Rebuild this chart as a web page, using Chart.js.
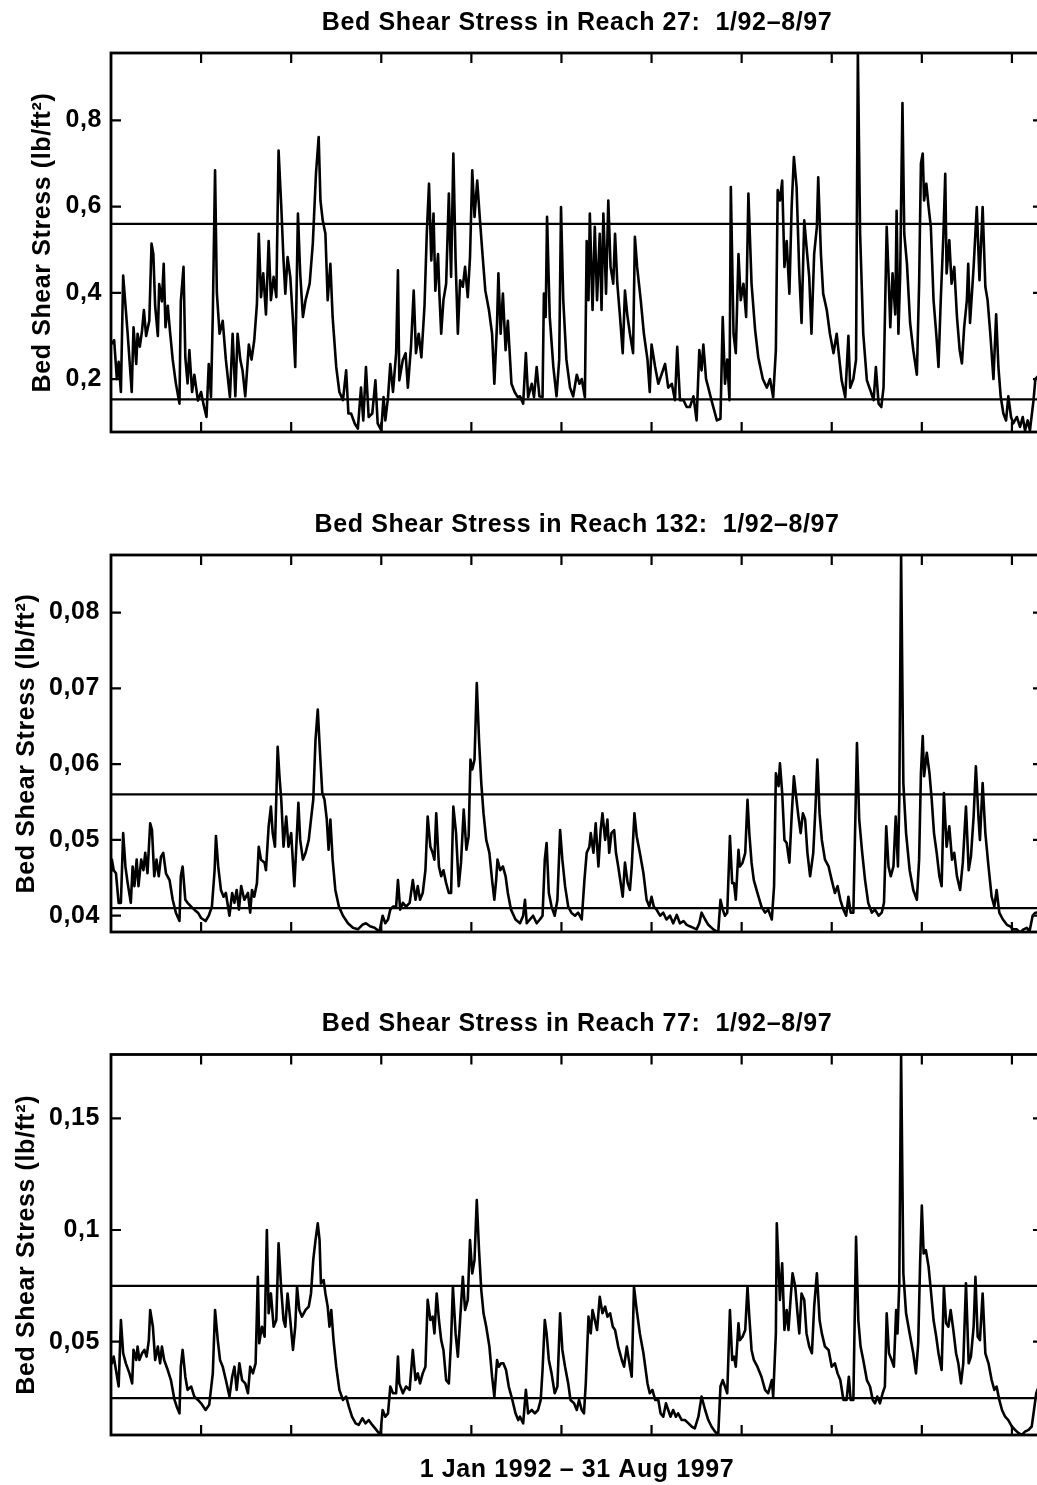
<!DOCTYPE html>
<html>
<head>
<meta charset="utf-8">
<title>Bed Shear Stress 1/92-8/97</title>
<script src="https://cdn.jsdelivr.net/npm/chart.js@4.4.1/dist/chart.umd.min.js"></script>
<style>
  html, body { margin: 0; padding: 0; background: #fff; overflow: hidden; }
  body { width: 1037px; height: 1485px; position: relative; }
  canvas { position: absolute; left: 0; }
</style>
</head>
<body>
<canvas id="reach27" width="1050" height="480" style="top:0px"></canvas>
<canvas id="reach132" width="1050" height="480" style="top:500px"></canvas>
<canvas id="reach77" width="1050" height="485" style="top:1000px"></canvas>
<script>
// days since 1 Jan 1992, last day = 31 Aug 1997
const lastDay = 2069;
const xTicks = [200, 400, 600, 800, 1000, 1200, 1400, 1600, 1800, 2000];

// ---- Reach 27 ----
const reach27Ticks = [0.2, 0.4, 0.6, 0.8];
const reach27Limits = [0.153, 0.56];
const reach27Days = [0,
  2,7,13,17,22,27,37,46,50,56,
  59,64,69,73,78,85,90,94,98,104,
  107,113,117,121,126,131,137,144,152,155,
  161,165,170,174,180,185,193,200,205,212,
  217,222,226,231,235,241,248,255,264,270,
  276,281,287,292,298,306,312,318,324,328,
  333,338,344,350,355,361,367,372,378,383,
  387,392,398,404,409,415,420,426,432,441,
  448,455,461,465,470,476,481,487,492,500,
  507,515,522,527,533,541,548,555,560,566,
  572,580,587,592,600,605,609,615,620,626,
  633,637,640,648,654,659,666,672,677,683,
  689,696,701,706,711,716,720,726,729,733,
  738,744,750,755,760,765,770,775,781,786,
  792,797,802,807,813,818,824,831,839,846,
  851,857,860,865,870,876,881,889,896,903,
  908,915,921,926,934,939,945,951,958,961,
  965,968,974,982,989,995,999,1004,1011,1019,
  1026,1034,1040,1045,1052,1056,1060,1063,1069,1074,
  1079,1085,1089,1093,1099,1104,1109,1115,1119,1124,
  1130,1136,1141,1146,1152,1159,1163,1168,1176,1183,
  1191,1196,1200,1208,1215,1222,1230,1237,1245,1252,
  1257,1263,1271,1278,1285,1293,1300,1306,1311,1315,
  1321,1326,1333,1345,1353,1358,1363,1368,1373,1376,
  1382,1387,1393,1398,1404,1410,1415,1422,1430,1437,
  1447,1456,1463,1470,1476,1480,1485,1490,1495,1500,
  1506,1511,1516,1522,1528,1533,1539,1544,1550,1555,
  1561,1567,1570,1576,1581,1589,1596,1604,1611,1617,
  1622,1630,1637,1641,1648,1654,1658,1663,1670,1678,
  1687,1693,1698,1704,1710,1715,1722,1726,1730,1735,
  1741,1744,1748,1752,1757,1761,1767,1774,1781,1789,
  1794,1798,1802,1805,1810,1815,1820,1826,1832,1837,
  1842,1848,1852,1855,1861,1866,1872,1878,1884,1889,
  1894,1900,1903,1907,1915,1922,1928,1935,1941,1946,
  1952,1959,1965,1970,1975,1981,1987,1992,1998,2003,
  2011,2018,2024,2029,2035,2040,2048,2052,2069];
const reach27Stress = [0.28,
  0.28,0.29,0.20,0.24,0.17,0.44,0.305,0.17,0.32,0.235,
  0.305,0.275,0.313,0.36,0.30,0.335,0.514,0.49,0.37,0.30,
  0.42,0.38,0.467,0.32,0.37,0.31,0.245,0.19,0.143,0.38,
  0.46,0.25,0.19,0.267,0.17,0.21,0.15,0.17,0.143,0.112,
  0.235,0.158,0.35,0.684,0.40,0.305,0.335,0.245,0.158,0.305,
  0.16,0.305,0.245,0.22,0.16,0.28,0.245,0.29,0.375,0.537,
  0.39,0.445,0.35,0.52,0.383,0.437,0.39,0.73,0.60,0.475,
  0.398,0.483,0.437,0.335,0.228,0.584,0.445,0.344,0.383,0.421,
  0.514,0.676,0.761,0.614,0.568,0.537,0.383,0.467,0.344,0.228,
  0.17,0.151,0.22,0.12,0.12,0.097,0.085,0.18,0.104,0.228,
  0.112,0.12,0.197,0.097,0.081,0.158,0.104,0.158,0.235,0.17,
  0.26,0.452,0.197,0.245,0.26,0.18,0.275,0.405,0.26,0.305,
  0.25,0.37,0.537,0.653,0.475,0.584,0.405,0.49,0.398,0.305,
  0.383,0.421,0.63,0.437,0.723,0.475,0.305,0.429,0.414,0.46,
  0.39,0.483,0.684,0.576,0.66,0.584,0.499,0.405,0.36,0.305,
  0.189,0.33,0.445,0.305,0.398,0.267,0.335,0.189,0.17,0.158,
  0.16,0.143,0.26,0.158,0.189,0.158,0.228,0.16,0.158,0.398,
  0.344,0.576,0.344,0.228,0.16,0.245,0.599,0.383,0.245,0.18,
  0.16,0.21,0.189,0.20,0.158,0.52,0.383,0.584,0.36,0.553,
  0.383,0.537,0.36,0.584,0.398,0.614,0.46,0.421,0.537,0.421,
  0.344,0.26,0.405,0.35,0.305,0.26,0.53,0.46,0.383,0.305,
  0.245,0.17,0.28,0.228,0.189,0.21,0.235,0.18,0.189,0.151,
  0.275,0.151,0.151,0.135,0.135,0.16,0.104,0.267,0.22,0.28,
  0.20,0.18,0.151,0.104,0.108,0.344,0.189,0.245,0.151,0.645,
  0.305,0.26,0.49,0.383,0.421,0.344,0.63,0.421,0.313,0.25,
  0.20,0.18,0.20,0.158,0.267,0.638,0.614,0.66,0.46,0.52,
  0.398,0.599,0.715,0.645,0.445,0.33,0.568,0.507,0.437,0.305,
  0.49,0.553,0.668,0.49,0.398,0.36,0.305,0.26,0.305,0.245,
  0.197,0.158,0.30,0.18,0.20,0.245,0.956,0.537,0.305,0.197,
  0.17,0.151,0.228,0.143,0.135,0.18,0.553,0.445,0.32,0.445,
  0.35,0.59,0.305,0.445,0.84,0.537,0.467,0.33,0.267,0.21,
  0.421,0.70,0.723,0.614,0.653,0.599,0.553,0.383,0.305,0.228,
  0.383,0.537,0.676,0.445,0.522,0.421,0.46,0.344,0.267,0.236,
  0.32,0.383,0.467,0.33,0.46,0.599,0.429,0.599,0.414,0.383,
  0.305,0.20,0.35,0.228,0.16,0.12,0.104,0.16,0.112,0.097,
  0.112,0.089,0.112,0.081,0.104,0.081,0.151,0.20,0.22];

// ---- Reach 132 ----
const reach132Ticks = [0.04, 0.05, 0.06, 0.07, 0.08];
const reach132Limits = [0.041, 0.056];
const reach132Days = [0,
  2,6,11,17,22,27,32,37,44,48,
  52,57,61,67,72,76,81,87,91,96,
  101,106,111,116,122,130,137,144,152,155,
  159,165,170,178,185,193,200,210,217,224,
  230,233,238,244,250,255,263,269,274,279,
  284,289,296,304,309,313,318,324,328,333,
  341,344,350,355,359,364,370,374,378,383,
  389,394,400,407,411,416,420,426,432,439,
  444,449,454,459,464,469,474,479,483,487,
  492,498,506,515,526,537,548,558,566,575,
  585,596,603,609,615,620,626,633,637,642,
  648,655,663,670,676,681,686,692,698,703,
  709,714,718,722,728,733,738,744,750,755,
  760,766,772,777,783,789,794,798,802,807,
  812,817,822,827,833,840,846,851,855,858,
  864,870,876,881,888,898,
  908,915,919,923,930,937,945,952,958,963,
  967,972,978,985,991,997,1002,1008,1015,1022,
  1030,1037,1045,1051,1056,1062,1065,1071,1076,1082,
  1087,1091,1097,1102,1106,1111,1117,1121,1126,1136,
  1141,1147,1152,1156,1162,1167,1174,1182,1189,1195,
  1200,1205,1211,1219,1226,1233,1241,1248,1256,1263,
  1271,1278,1285,1293,1300,1306,1311,1319,1326,1337,
  1348,1353,1358,1363,1368,1374,1379,1383,1387,1393,
  1396,1402,1408,1413,1417,1422,1427,1435,1444,1452,
  1459,1467,1472,1476,1482,1485,1490,1495,1500,1506,
  1511,1516,1521,1526,1531,1536,1541,1546,1552,1559,
  1564,1568,1573,1578,1585,1593,1600,1607,1613,1619,
  1626,1632,1637,1642,1648,1656,1661,1667,1674,1681,
  1689,1696,1704,1711,1716,1721,1726,1731,1737,1742,
  1747,1750,1754,1759,1765,1773,1781,1789,1794,1798,
  1802,1805,1811,1817,1822,1827,1833,1839,1844,1849,
  1855,1861,1867,1872,1878,1885,1891,1898,1904,1909,
  1915,1920,1926,1929,1935,1941,1948,1955,1961,1966,
  1972,1980,1989,1996,2003,2011,2018,2026,2033,2039,
  2046,2052,2069];
const reach132Stress = [0.046,
  0.0474,0.046,0.0456,0.0417,0.0417,0.0509,0.0465,0.0443,0.0417,0.0465,
  0.0439,0.0474,0.0439,0.0474,0.046,0.0483,0.0456,0.0522,0.0513,0.0452,
  0.0474,0.0452,0.0478,0.0483,0.0456,0.0447,0.0421,0.0404,0.0393,0.0452,
  0.0465,0.0421,0.0417,0.0412,0.0408,0.0404,0.0397,0.0393,0.040,0.0412,
  0.046,0.0505,0.0465,0.0434,0.0425,0.043,0.040,0.043,0.0417,0.0434,
  0.0408,0.0439,0.0421,0.043,0.0404,0.0434,0.0425,0.0443,0.0491,0.0474,
  0.047,0.046,0.0518,0.0544,0.0509,0.0491,0.0623,0.0584,0.0553,0.0491,
  0.0531,0.0491,0.0509,0.0439,0.0487,0.0549,0.050,0.0474,0.0483,0.050,
  0.0527,0.0553,0.0632,0.0672,0.0615,0.0562,0.0553,0.0527,0.0487,0.0527,
  0.0474,0.0434,0.0412,0.040,0.039,0.0384,0.0382,0.0388,0.039,0.0386,
  0.0384,0.0379,0.040,0.039,0.0395,0.0408,0.0412,0.0412,0.0447,0.0408,
  0.0417,0.0412,0.0417,0.0447,0.0421,0.0439,0.0421,0.043,0.046,0.0531,
  0.0491,0.0483,0.0474,0.0535,0.0465,0.0452,0.046,0.0443,0.043,0.043,
  0.0544,0.0509,0.0439,0.047,0.054,0.0487,0.0505,0.0606,0.0593,0.0606,
  0.0707,0.0632,0.0575,0.0535,0.050,0.0483,0.0447,0.0421,0.0447,0.0474,
  0.046,0.0465,0.0452,0.043,0.0408,0.0395,
  0.039,0.040,0.0421,0.039,0.0395,0.040,0.039,0.0395,0.040,0.0474,
  0.0496,0.043,0.0412,0.040,0.0421,0.0513,0.0474,0.0439,0.0412,0.0404,
  0.040,0.0404,0.0395,0.0447,0.0483,0.0491,0.0509,0.0483,0.0522,0.0465,
  0.0513,0.0535,0.050,0.0527,0.0483,0.0509,0.0513,0.0483,0.0465,0.0425,
  0.047,0.0443,0.0434,0.0465,0.0535,0.0505,0.0483,0.0456,0.0421,0.0412,
  0.0425,0.0412,0.0408,0.040,0.0404,0.0395,0.040,0.039,0.0401,0.039,
  0.0393,0.0388,0.0386,0.0384,0.0382,0.039,0.0404,0.0395,0.0388,0.0382,
  0.0378,0.0421,0.0408,0.040,0.0404,0.0505,0.0443,0.0443,0.0421,0.0487,
  0.0465,0.047,0.0483,0.0553,0.0509,0.047,0.0447,0.043,0.0412,0.0404,
  0.0408,0.0395,0.0439,0.0588,0.0571,0.0601,0.0562,0.050,0.0496,0.047,
  0.0531,0.0584,0.0557,0.0531,0.0509,0.0535,0.0527,0.0483,0.0452,0.0483,
  0.0544,0.0606,0.0535,0.050,0.0474,0.0465,0.0447,0.043,0.0439,0.0421,
  0.0408,0.040,0.0425,0.0404,0.0404,0.0628,0.0527,0.0487,0.0447,0.0417,
  0.0404,0.0408,0.040,0.0404,0.0417,0.0518,0.0465,0.0452,0.0465,0.0531,
  0.0465,0.0553,0.0876,0.0575,0.0509,0.046,0.0434,0.0421,0.0474,0.0588,
  0.0637,0.0584,0.0615,0.0588,0.0553,0.0509,0.0483,0.0452,0.0439,0.0562,
  0.0491,0.0518,0.0474,0.0483,0.0452,0.0434,0.047,0.0544,0.046,0.0478,
  0.0531,0.0597,0.0527,0.050,0.0575,0.0509,0.0465,0.0425,0.0412,0.0434,
  0.0404,0.0395,0.0388,0.0386,0.0382,0.0382,0.0378,0.0382,0.0384,0.0379,
  0.040,0.0404,0.0405];

// ---- Reach 77 ----
const reach77Ticks = [0.05, 0.1, 0.15];
const reach77Limits = [0.0247, 0.075];
const reach77Days = [0,
  2,6,11,17,22,27,33,41,47,50,
  56,59,63,69,74,79,84,87,93,98,
  104,109,113,118,126,133,141,146,152,155,
  159,165,170,178,185,193,200,210,218,226,
  231,237,242,248,255,263,269,274,279,285,
  291,298,304,309,315,321,326,329,335,341,
  346,350,355,361,367,372,378,383,387,392,
  398,404,409,413,418,424,432,439,444,449,
  454,459,463,466,472,476,481,485,489,494,
  500,507,515,522,528,535,543,550,558,565,
  572,580,589,598,603,609,615,620,626,633,
  637,640,648,655,663,670,676,681,686,692,
  698,703,709,714,718,723,728,733,738,744,
  750,755,759,765,770,775,781,786,792,797,
  802,807,812,817,822,827,833,840,846,851,
  857,861,866,871,877,883,891,898,904,
  908,915,921,926,934,941,948,954,958,963,
  967,972,978,985,991,997,1002,1008,1015,1020,
  1028,1034,1039,1045,1050,1054,1060,1065,1069,1074,
  1079,1085,1091,1097,1102,1108,1114,1119,1126,1134,
  1139,1145,1152,1156,1161,1167,1174,1182,1191,1196,
  1202,1208,1215,1220,1226,1232,1237,1242,1248,1254,
  1259,1267,1274,1282,1289,1296,1304,1311,1319,1326,
  1333,1341,1348,1353,1358,1363,1368,1374,1379,1383,
  1387,1393,1396,1402,1408,1413,1417,1422,1427,1435,
  1444,1452,1459,1467,1470,1476,1478,1482,1485,1490,
  1495,1500,1504,1509,1513,1519,1524,1528,1533,1539,
  1544,1550,1556,1561,1567,1573,1578,1585,1593,1600,
  1607,1613,1619,1626,1633,1638,1642,1648,1654,1659,
  1664,1670,1678,1685,1691,1696,1701,1707,1713,1718,
  1722,1727,1733,1738,1743,1746,1750,1754,1759,1765,
  1773,1781,1787,1792,1796,1800,1804,1809,1815,1820,
  1826,1832,1837,1844,1849,1854,1859,1864,1870,1876,
  1881,1887,1892,1898,1904,1909,1915,1919,1924,1929,
  1935,1941,1948,1955,1961,1966,1972,1978,1985,1992,
  2000,2007,2015,2022,2029,2037,2044,2049,2054,2069];
const reach77Stress = [0.042,
  0.0403,0.0433,0.0373,0.0299,0.0597,0.0448,0.0403,0.0358,0.0313,0.0463,
  0.0418,0.0478,0.0418,0.0448,0.0463,0.0433,0.0507,0.0642,0.0567,0.0418,
  0.0478,0.0403,0.0478,0.0418,0.0373,0.0328,0.0239,0.0209,0.0179,0.0388,
  0.0463,0.0343,0.0284,0.0299,0.0254,0.0239,0.0224,0.0194,0.0217,0.0358,
  0.0642,0.0507,0.0418,0.0388,0.0328,0.0254,0.0343,0.0388,0.0284,0.0403,
  0.0328,0.0313,0.0269,0.0388,0.0358,0.0403,0.0791,0.0493,0.0567,0.0522,
  0.1,0.0627,0.0716,0.0567,0.0597,0.094,0.0731,0.0597,0.0567,0.0716,
  0.0597,0.0463,0.0567,0.0746,0.0642,0.0612,0.0642,0.0657,0.0716,0.0866,
  0.0955,0.103,0.0955,0.0761,0.0776,0.0716,0.0657,0.0567,0.0642,0.0507,
  0.0388,0.0284,0.0239,0.0254,0.0209,0.0164,0.0134,0.0127,0.0157,0.0134,
  0.0149,0.0127,0.0105,0.0082,0.0194,0.0164,0.0179,0.0299,0.0269,0.0269,
  0.0433,0.0313,0.0269,0.0299,0.0284,0.0463,0.0328,0.0358,0.0313,0.0358,
  0.0388,0.0687,0.0597,0.0612,0.0537,0.0716,0.0597,0.0507,0.0463,0.0328,
  0.0313,0.0507,0.0746,0.0537,0.0433,0.0597,0.0791,0.0642,0.0687,0.0955,
  0.0806,0.0866,0.1134,0.091,0.0731,0.0627,0.0567,0.0478,0.0343,0.0254,
  0.0418,0.0388,0.0403,0.0403,0.0373,0.0299,0.0239,0.0179,0.0149,
  0.0164,0.0134,0.0284,0.0179,0.0194,0.0179,0.0194,0.0239,0.0373,0.0597,
  0.0537,0.0418,0.0358,0.0269,0.0299,0.0627,0.0463,0.0388,0.0313,0.0239,
  0.0224,0.0194,0.0239,0.0194,0.0179,0.0313,0.0612,0.0537,0.0642,0.0597,
  0.0552,0.0701,0.0627,0.0657,0.0612,0.0627,0.0567,0.0552,0.0478,0.0418,
  0.0388,0.0478,0.0388,0.0343,0.0746,0.0642,0.0537,0.0448,0.0313,0.0269,
  0.0284,0.0239,0.0239,0.0179,0.0164,0.0224,0.0194,0.0164,0.0194,0.0164,
  0.0179,0.0149,0.0149,0.0134,0.012,0.0112,0.0164,0.0254,0.0194,0.0149,
  0.012,0.0097,0.0082,0.0299,0.0328,0.0299,0.0269,0.0642,0.0418,0.0433,
  0.0388,0.0582,0.0507,0.0522,0.0552,0.0746,0.0612,0.0463,0.0418,0.0388,
  0.0343,0.0284,0.0269,0.0328,0.0254,0.0537,0.103,0.0836,0.0687,0.0851,
  0.0552,0.0642,0.0552,0.0701,0.0806,0.0746,0.0627,0.0537,0.0716,0.0687,
  0.0537,0.0478,0.0448,0.0657,0.0806,0.0597,0.0537,0.0478,0.0463,0.0388,
  0.0403,0.0358,0.0328,0.0239,0.0239,0.0343,0.0239,0.0239,0.097,0.0597,
  0.0478,0.0418,0.0328,0.0299,0.0239,0.0224,0.0254,0.0224,0.0269,0.0299,
  0.0627,0.0448,0.0418,0.0388,0.0642,0.0537,0.0761,0.1786,0.0806,0.0627,
  0.0537,0.0448,0.0358,0.0493,0.0836,0.111,0.0895,0.091,0.0836,0.0731,
  0.0597,0.0522,0.0448,0.0373,0.0746,0.0582,0.0567,0.0642,0.0552,0.0448,
  0.0403,0.0313,0.0403,0.0761,0.0403,0.0433,0.0567,0.0791,0.0522,0.0507,
  0.0716,0.0448,0.0403,0.0328,0.0284,0.0299,0.0239,0.0194,0.0164,0.0149,
  0.012,0.0105,0.009,0.0082,0.0097,0.0105,0.012,0.0194,0.0269,0.035];

const yLabel = 'Bed Shear Stress (lb/ft\u00B2)';

Chart.defaults.font.family = "'Liberation Sans', Arial, Helvetica, sans-serif";
Chart.defaults.font.size = 25;
Chart.defaults.font.weight = 'bold';
Chart.defaults.color = '#000';

// box with inward ticks on all four sides, like the original plot
const framePlugin = {
  id: 'frame',
  beforeUpdate(chart) { chart.ctx.letterSpacing = '0.6px'; },
  beforeDraw(chart) { chart.ctx.letterSpacing = '0.6px'; },
  afterDraw(chart) {
    const { ctx, chartArea: a, scales: { x, y } } = chart;
    const len = 10;
    ctx.save();
    ctx.strokeStyle = '#000';
    ctx.lineWidth = 2.2;
    ctx.beginPath();
    x.ticks.forEach(t => {
      const px = x.getPixelForValue(t.value);
      ctx.moveTo(px, a.top); ctx.lineTo(px, a.top + len);
      ctx.moveTo(px, a.bottom); ctx.lineTo(px, a.bottom - len);
    });
    y.ticks.forEach(t => {
      const py = y.getPixelForValue(t.value);
      ctx.moveTo(a.left, py); ctx.lineTo(a.left + len, py);
      ctx.moveTo(a.right, py); ctx.lineTo(a.right - len, py);
    });
    ctx.stroke();
    ctx.lineWidth = 2.8;
    ctx.strokeRect(a.left, a.top, a.right - a.left, a.bottom - a.top);
    ctx.restore();
  }
};

function drawPanel(id, p) {
  const canvas = document.getElementById(id);
  if (!canvas) {
    console.error('canvas not found: ' + id);
    return;
  }
  const ctx = canvas.getContext('2d');

  const datasets = [{
    data: p.days.map((d, i) => ({ x: d, y: p.stress[i] })),
    borderColor: '#000',
    borderWidth: 2.6,
    borderJoinStyle: 'round',
    pointRadius: 0,
    tension: 0
  }];
  p.limits.forEach(v => {
    datasets.push({
      data: [{ x: 0, y: v }, { x: lastDay, y: v }],
      borderColor: '#000',
      borderWidth: 2.2,
      pointRadius: 0
    });
  });

  new Chart(ctx, {
    type: 'line',
    data: { datasets },
    options: {
      responsive: false,
      animation: false,
      events: [],
      layout: { padding: { left: 0, right: 7, top: 0, bottom: 0 } },
      plugins: {
        legend: { display: false },
        tooltip: { enabled: false },
        title: { display: false }
      },
      scales: {
        x: {
          type: 'linear',
          min: 0,
          max: lastDay,
          grid: { display: false, drawTicks: false },
          border: { display: false },
          ticks: { display: false },
          afterBuildTicks: s => { s.ticks = xTicks.map(v => ({ value: v })); },
          afterFit: s => { s.height = p.bottomSpace; },
          title: {
            display: !!p.xTitle,
            text: p.xTitle || '',
            padding: { top: 0, bottom: 0 }
          }
        },
        x2: {
          type: 'linear',
          axis: 'x',
          position: 'top',
          grid: { display: false, drawTicks: false },
          border: { display: false },
          ticks: { display: false },
          afterFit: s => { s.height = p.plotTop; },
          title: {
            display: true,
            text: p.title,
            padding: { top: p.titlePad, bottom: 0 }
          }
        },
        y: {
          type: 'linear',
          min: p.yMin,
          max: p.yMax,
          grid: { display: false, drawTicks: false },
          border: { display: false },
          ticks: {
            padding: p.tickPad,
            callback: v => String(v).replace('.', ',')
          },
          afterBuildTicks: s => { s.ticks = p.yTicks.map(v => ({ value: v })); },
          afterFit: s => { s.width = 111; },
          title: {
            display: true,
            text: yLabel,
            padding: { top: p.yTitlePad, bottom: 0 }
          }
        }
      }
    },
    plugins: [framePlugin]
  });
}

drawPanel('reach27', {
  title: 'Bed Shear Stress in Reach 27:  1/92\u20138/97',
  days: reach27Days, stress: reach27Stress, limits: reach27Limits, yTicks: reach27Ticks,
  yMin: 0.0772, yMax: 0.956,
  plotTop: 53, titlePad: 8, bottomSpace: 48, tickPad: 9, yTitlePad: 28
});

drawPanel('reach132', {
  title: 'Bed Shear Stress in Reach 132:  1/92\u20138/97',
  days: reach132Days, stress: reach132Stress, limits: reach132Limits, yTicks: reach132Ticks,
  yMin: 0.03785, yMax: 0.0876,
  plotTop: 55, titlePad: 10, bottomSpace: 48, tickPad: 11, yTitlePad: 12
});

drawPanel('reach77', {
  title: 'Bed Shear Stress in Reach 77:  1/92\u20138/97',
  days: reach77Days, stress: reach77Stress, limits: reach77Limits, yTicks: reach77Ticks,
  yMin: 0.0082, yMax: 0.1786,
  plotTop: 54.5, titlePad: 9.5, bottomSpace: 50, tickPad: 11, yTitlePad: 12,
  xTitle: '1 Jan 1992 \u2013 31 Aug 1997'
});
</script>
</body>
</html>
